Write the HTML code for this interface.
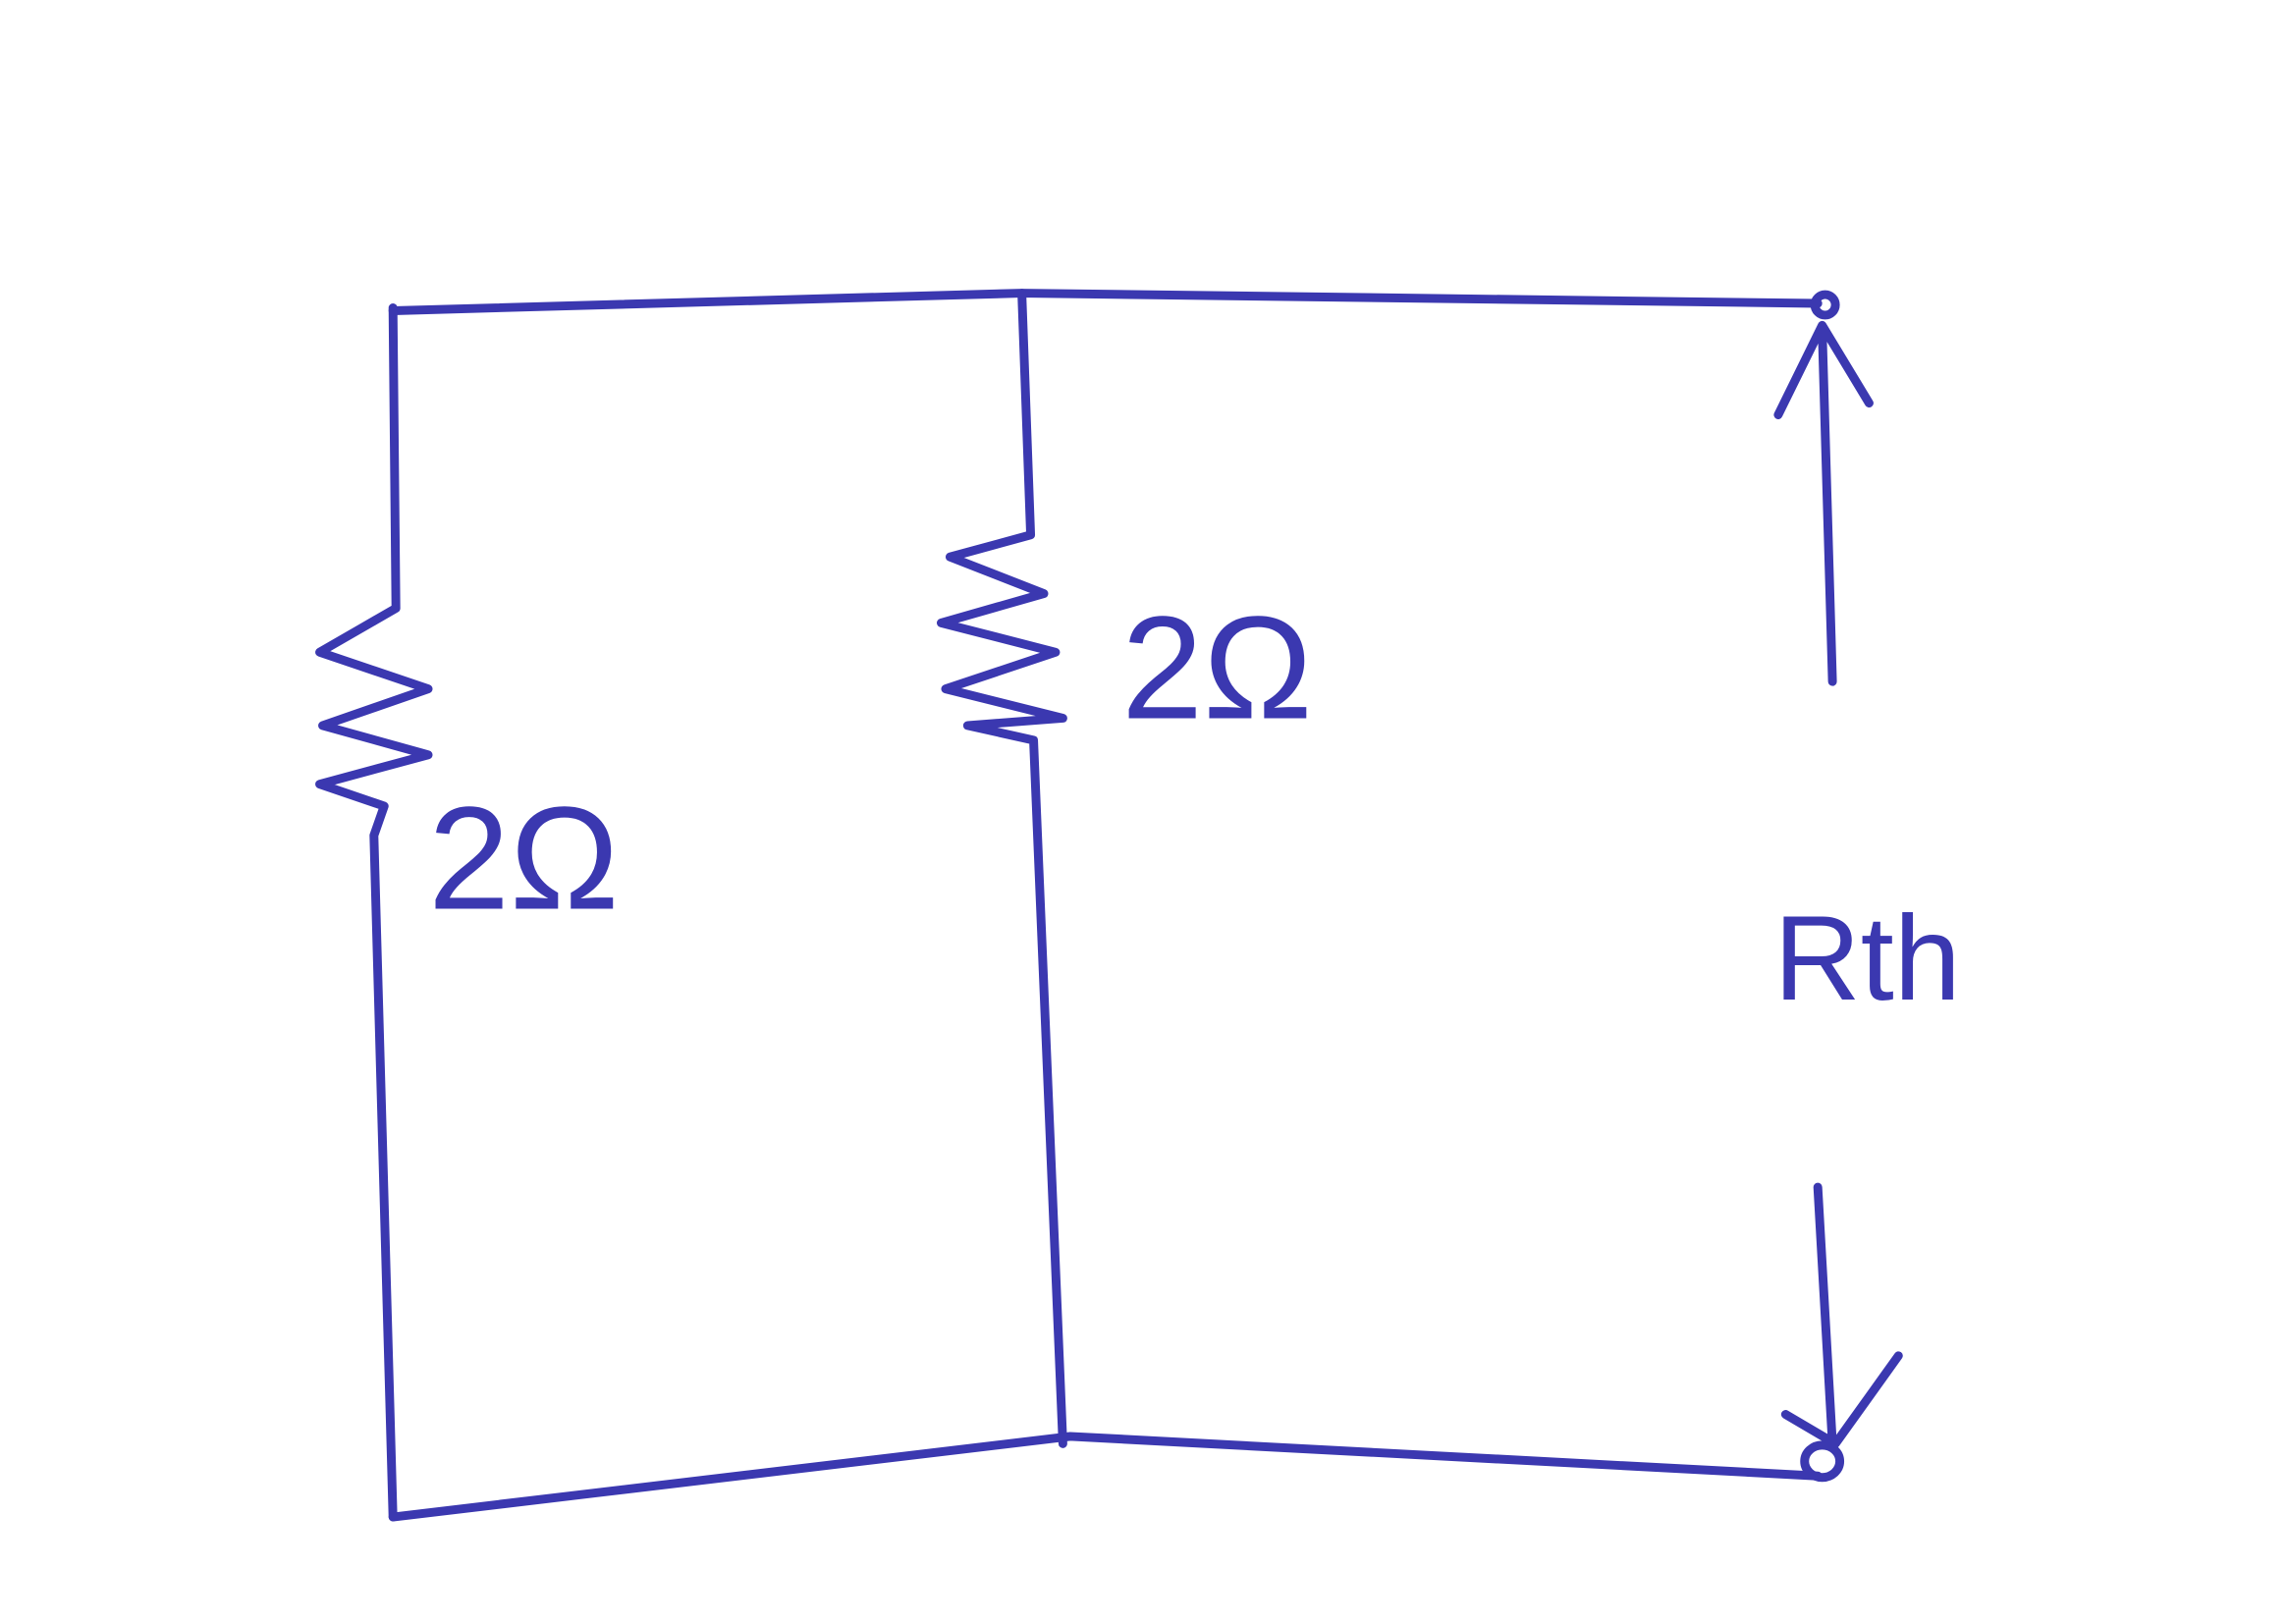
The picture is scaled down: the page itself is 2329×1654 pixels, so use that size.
<!DOCTYPE html>
<html><head><style>html,body{margin:0;padding:0;background:#fff}svg{display:block}</style></head>
<body>
<svg width="2329" height="1654" viewBox="0 0 1560 1108" xmlns="http://www.w3.org/2000/svg">
<g fill="none" stroke="#3b38b0" stroke-width="6" stroke-linecap="round" stroke-linejoin="round">
<path d="M268,212 L697,200 L1240,207"/>
<path d="M268,210 L270,415 L218,445 L292,470 L220,495 L292,515 L218,535 L262,550 L255,570 L268,1035"/>
<path d="M697,200 L703,365 L648,380 L712,405 L642,425 L720,445 L645,470 L725,490 L660,495 L705,505 L725,985"/>
<path d="M268,1035 L730,980 L1240,1007"/>
<circle cx="1245" cy="208" r="7"/>
<ellipse cx="1243" cy="997" rx="12" ry="11"/>
<path d="M1250,465 L1243,225 M1213,283 L1243,222 L1275,275"/>
<path d="M1240,810 L1250,985 M1218,965 L1252,985 L1295,925"/>
</g>
<g fill="#3b38b0" font-family="Liberation Sans, sans-serif">
<text x="292" y="620" font-size="100">2Ω</text>
<text x="765" y="490" font-size="100">2Ω</text>
<text x="1210" y="682" font-size="82">Rth</text>
</g>
</svg>
</body></html>
